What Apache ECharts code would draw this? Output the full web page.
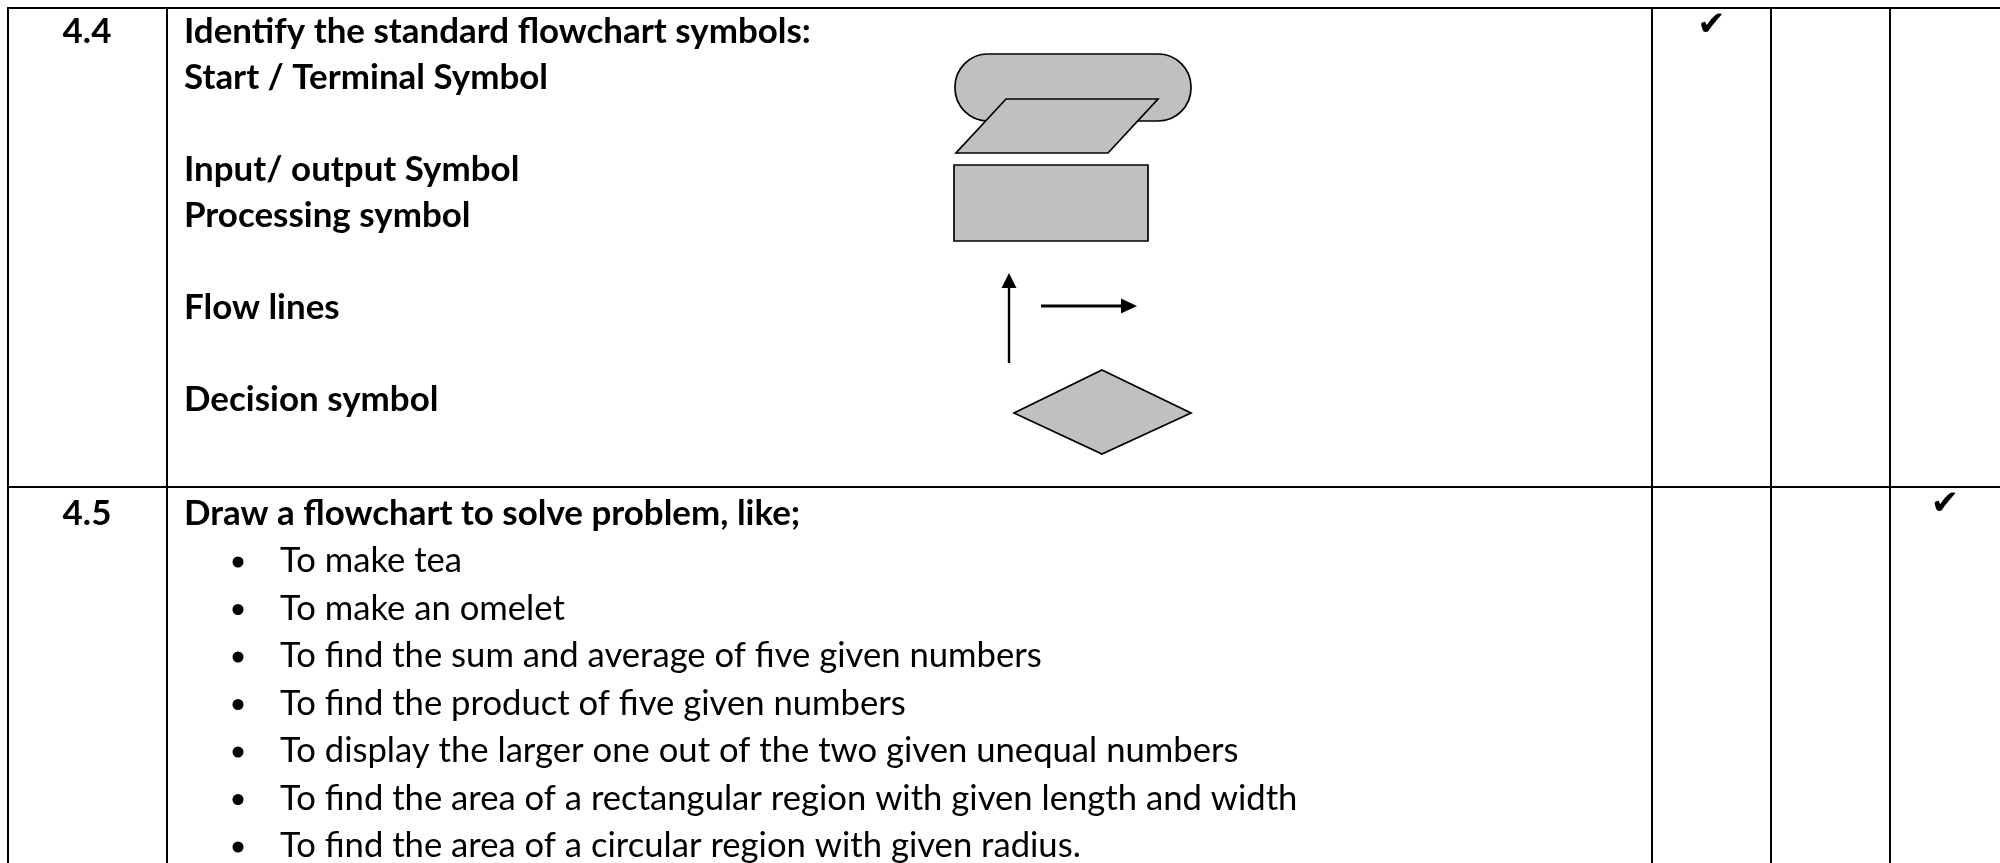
<!DOCTYPE html>
<html>
<head>
<meta charset="utf-8">
<script src="https://cdn.jsdelivr.net/npm/echarts@6/dist/echarts.min.js"></script>
<style>
  html, body { margin: 0; padding: 0; background: #fff; }
  #chart { width: 2000px; height: 863px; }
</style>
</head>
<body>
<div id="chart"></div>
<script>
// content of the two table rows
var rowNumbers = ['4.4', '4.5'];
var symbolLines = [
  'Identify the standard flowchart symbols:',
  'Start / Terminal Symbol',
  '',
  'Input/ output Symbol',
  'Processing symbol',
  '',
  'Flow lines',
  '',
  'Decision symbol'
];
var taskHeading = 'Draw a flowchart to solve problem, like;';
var taskItems = [
  'To make tea',
  'To make an omelet',
  'To find the sum and average of five given numbers',
  'To find the product of five given numbers',
  'To display the larger one out of the two given unequal numbers',
  'To find the area of a rectangular region with given length and width',
  'To find the area of a circular region with given radius.'
];
// which of the three level columns holds the tick, per row
var tickColumns = [0, 2];

(function() {
  var ink = '#000000';
  var shapeFill = '#c0c0c0';
  var family = 'Lato';

  // layout (in page pixels, mapped through the hidden axes)
  var cols = [8, 167, 1652, 1771, 1890, 2000];
  var rowTops = [8, 487];
  var firstLine = 32, pitch1 = 46;
  var headLine = 514, firstItem = 561, pitch2 = 47.5;
  var textLeft = 184, bulletX = 238, itemLeft = 280;

  function fitSize(text, weight, target) {
    var ctx = document.createElement('canvas').getContext('2d');
    ctx.font = weight + ' 100px ' + family;
    return 100 * target / ctx.measureText(text).width;
  }
  var boldSize = fitSize(symbolLines[0], 'bold', 627);
  var regSize = fitSize(taskItems[3], 'normal', 626);

  // text entries: [x, y, text, bold, align]
  var texts = [];
  texts.push([87, firstLine, rowNumbers[0], true, 'center']);
  symbolLines.forEach(function(t, i) {
    if (t) texts.push([textLeft, firstLine + i * pitch1, t, true, 'left']);
  });
  texts.push([87, headLine, rowNumbers[1], true, 'center']);
  texts.push([textLeft, headLine, taskHeading, true, 'left']);
  taskItems.forEach(function(t, i) {
    texts.push([itemLeft, firstItem + i * pitch2, t, false, 'left']);
  });

  var chart = echarts.init(document.getElementById('chart'), null, { renderer: 'canvas' });

  function gridLines(params, api) {
    var children = [];
    function seg(x1, y1, x2, y2, w) {
      var a = api.coord([x1, y1]), b = api.coord([x2, y2]);
      children.push({ type: 'line', shape: { x1: a[0], y1: a[1], x2: b[0], y2: b[1] },
        style: { stroke: ink, lineWidth: w } });
    }
    rowTops.forEach(function(y) { seg(cols[0] - 1, y, 2000, y, 2); });
    for (var i = 0; i < cols.length - 1; i++) seg(cols[i], rowTops[0], cols[i], 863, 2);
    return { type: 'group', children: children };
  }

  function symbols(params, api) {
    var c = function(x, y) { return api.coord([x, y]); };
    var st = { fill: shapeFill, stroke: ink, lineWidth: 1.7 };
    var t0 = c(955, 54), t1 = c(1191, 121);
    var r0 = c(954, 165), r1 = c(1148, 241);
    var v0 = c(1009, 363), v1 = c(1009, 285);
    var h0 = c(1041, 306), h1 = c(1123, 306);
    return { type: 'group', children: [
      { type: 'rect', shape: { x: t0[0], y: t0[1], width: t1[0] - t0[0], height: t1[1] - t0[1], r: 33 }, style: st },
      { type: 'polygon', shape: { points: [c(1006, 99), c(1158, 99), c(1108, 153), c(956, 153)] }, style: st },
      { type: 'rect', shape: { x: r0[0], y: r0[1], width: r1[0] - r0[0], height: r1[1] - r0[1] }, style: st },
      { type: 'line', shape: { x1: v0[0], y1: v0[1], x2: v1[0], y2: v1[1] }, style: { stroke: ink, lineWidth: 2.4 } },
      { type: 'polygon', shape: { points: [c(1009, 273), c(1016.5, 288), c(1001.5, 288)] }, style: { fill: ink } },
      { type: 'line', shape: { x1: h0[0], y1: h0[1], x2: h1[0], y2: h1[1] }, style: { stroke: ink, lineWidth: 3 } },
      { type: 'polygon', shape: { points: [c(1137, 306), c(1121, 298.5), c(1121, 313.5)] }, style: { fill: ink } },
      { type: 'polygon', shape: { points: [c(1102, 370), c(1191, 413), c(1102, 454), c(1014, 413)] }, style: st }
    ] };
  }

  function textItem(params, api) {
    var d = texts[params.dataIndex];
    var p = api.coord([d[0], d[1]]);
    return { type: 'text', style: {
      x: p[0], y: p[1], text: d[2], fill: ink, align: d[4], verticalAlign: 'middle',
      font: (d[3] ? 'bold ' + boldSize : 'normal ' + regSize) + 'px ' + family
    } };
  }

  function bullets(params, api) {
    var p = api.coord([bulletX, firstItem + params.dataIndex * pitch2 + 1]);
    return { type: 'circle', shape: { cx: p[0], cy: p[1], r: 5.5 }, style: { fill: ink } };
  }

  function ticks(params, api) {
    var col = tickColumns[params.dataIndex];
    var x = (cols[col + 2] + cols[col + 3]) / 2;
    var p = api.coord([x, rowTops[params.dataIndex] + 18]);
    return { type: 'text', style: {
      x: p[0], y: p[1], text: '\u2714', fill: ink, align: 'center', verticalAlign: 'middle',
      font: '34px "DejaVu Sans"'
    } };
  }

  chart.setOption({
    animation: false,
    backgroundColor: '#ffffff',
    grid: { left: 0, right: 0, top: 0, bottom: 0 },
    xAxis: { type: 'value', min: 0, max: 2000, show: false },
    yAxis: { type: 'value', min: 0, max: 863, inverse: true, show: false },
    series: [
      { type: 'custom', renderItem: gridLines, data: [[0, 0]], silent: true },
      { type: 'custom', renderItem: symbols, data: [[0, 0]], silent: true },
      { type: 'custom', renderItem: textItem, data: texts.map(function(d) { return [d[0], d[1]]; }), silent: true },
      { type: 'custom', renderItem: bullets, data: taskItems.map(function(t, i) { return [bulletX, i]; }), silent: true },
      { type: 'custom', renderItem: ticks, data: tickColumns.map(function(c, i) { return [c, i]; }), silent: true }
    ]
  });
  window.addEventListener('resize', function() { chart.resize(); });
})();
</script>
</body>
</html>
